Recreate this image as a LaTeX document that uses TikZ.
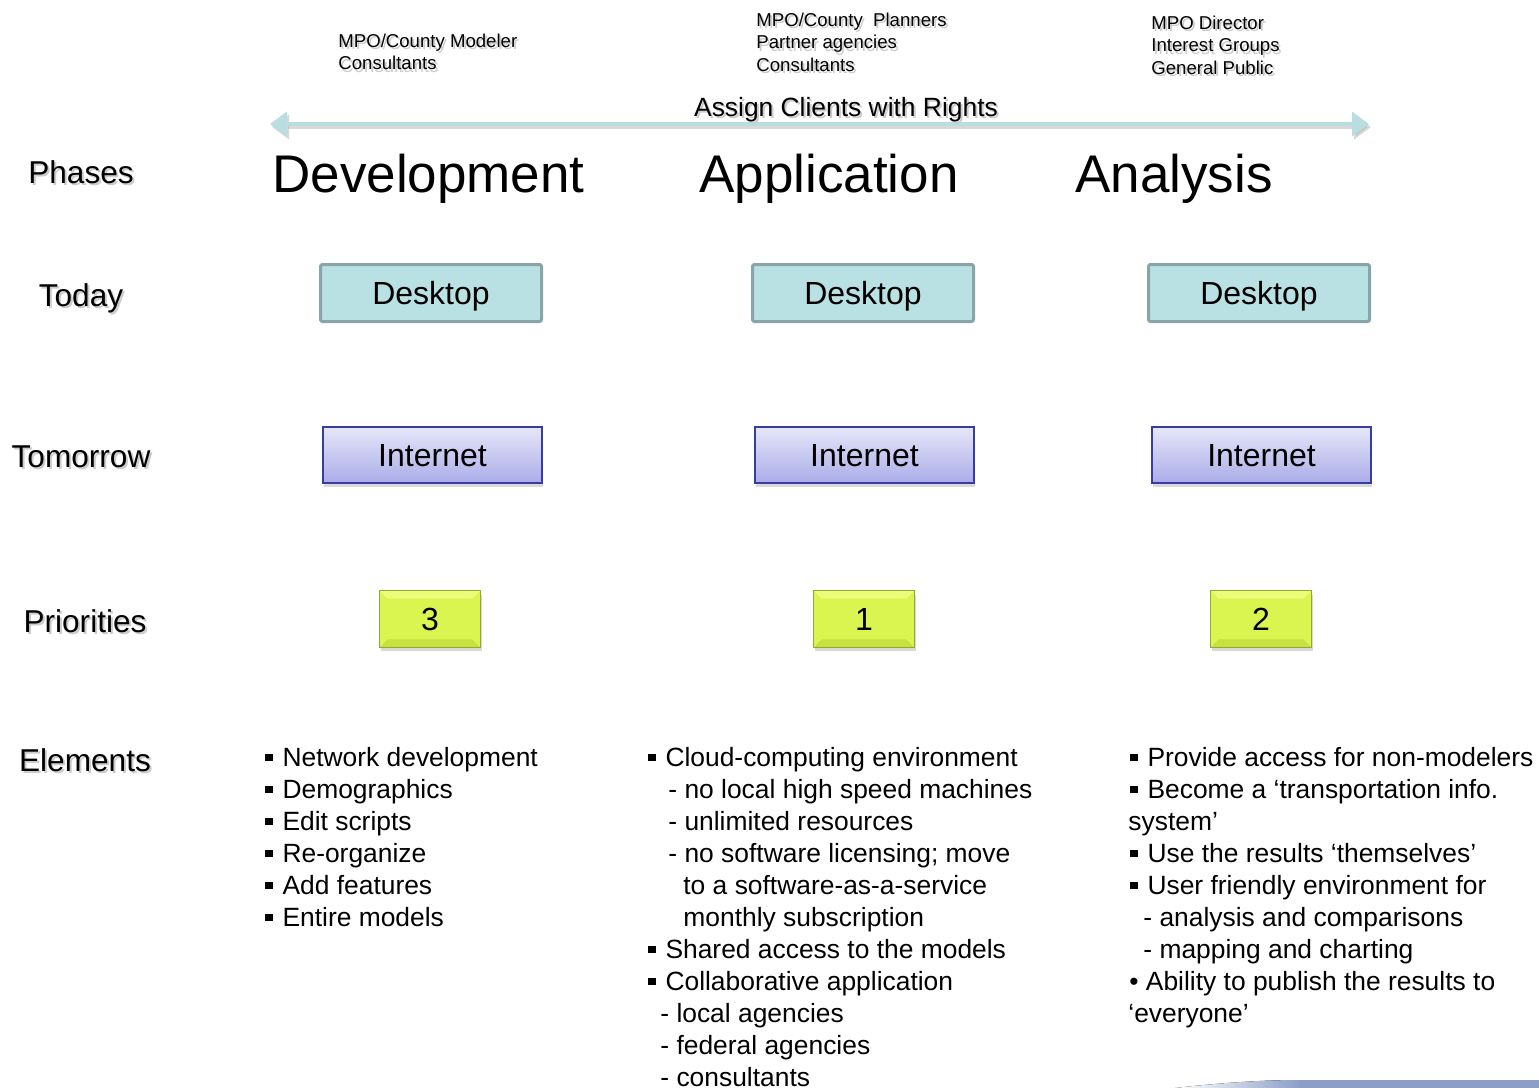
\documentclass[tikz,border=0pt]{standalone}
\usepackage{fontspec}
\setmainfont{Liberation Sans}
\usetikzlibrary{positioning, arrows.meta, shadows}

\definecolor{deskfill}{RGB}{185,224,227}
\definecolor{deskline}{RGB}{136,164,166}
\definecolor{nettop}{RGB}{230,230,249}
\definecolor{netbot}{RGB}{170,172,232}
\definecolor{netline}{RGB}{55,60,160}
\definecolor{prifill}{RGB}{218,245,80}
\definecolor{prilight}{RGB}{236,252,120}
\definecolor{pridark}{RGB}{200,225,66}
\definecolor{priline}{RGB}{150,168,50}
\definecolor{rights}{RGB}{184,222,226}
\definecolor{swoosh}{RGB}{140,158,198}

% text with a soft grey shadow
\newcommand{\shd}[1]{\makebox[0pt][l]{\raisebox{-1.3pt}{\hspace{1pt}\textcolor{black!20}{#1}}}#1}
% square bullet
\newcommand{\sqb}{\rule[0.2em]{0.27em}{0.27em}\hspace{5pt}}

\tikzset {
    rowlabel/.style={font=\fontsize{15.8}{19}\selectfont, anchor=base, inner sep=0},
    phase/.style={font=\fontsize{26.5}{30}\selectfont, anchor=base west, inner sep=0},
    who/.style={font=\fontsize{9.3}{11.25}\selectfont, align=left, anchor=north west, inner sep=0},
    item/.style={font=\fontsize{13.2}{16}\selectfont, anchor=base west, inner sep=0},
    desk/.style={draw=deskline, line width=1.5pt, fill=deskfill, rounded corners=1pt,
        minimum width=110.5pt, minimum height=28.5pt, text depth=0pt,
        font=\fontsize{16}{19}\selectfont},
    net/.style={draw=netline, line width=1pt, top color=nettop, bottom color=netbot,
        minimum width=109.5pt, minimum height=28pt, text depth=0pt,
        font=\fontsize{16}{19}\selectfont,
        drop shadow={opacity=0.3, shadow xshift=0.6pt, shadow yshift=-2pt}},
    prio/.style={draw=priline, line width=0.6pt, fill=prifill,
        minimum width=50.4pt, minimum height=28.4pt, text depth=0pt,
        font=\fontsize{16}{19}\selectfont,
        drop shadow={opacity=0.3, shadow xshift=0.6pt, shadow yshift=-2pt},
        path picture={
            \fill[prilight] (path picture bounding box.north west) -- (path picture bounding box.north east)
                -- ([xshift=-4pt,yshift=-4pt]path picture bounding box.north east)
                -- ([xshift=4pt,yshift=-4pt]path picture bounding box.north west) -- cycle;
            \fill[pridark] (path picture bounding box.south west) -- (path picture bounding box.south east)
                -- ([xshift=-4pt,yshift=4pt]path picture bounding box.south east)
                -- ([xshift=4pt,yshift=4pt]path picture bounding box.south west) -- cycle;
        }},
    rtip/.tip={Triangle[width=12pt,length=8.5pt]}
}

\begin{document}
\begin{tikzpicture}[x=0.5pt,y=-0.5pt]
    \useasboundingbox (0,0) rectangle (1539,1088);

    % who uses each phase
    \node[who] (w1) at (338,33.5) {\shd{MPO/County Modeler}\\\shd{Consultants}};
    \node[who] (w2) at (756,12.5) {\shd{MPO/County \ Planners}\\\shd{Partner agencies}\\\shd{Consultants}};
    \node[who] (w3) at (1151,15.5) {\shd{MPO Director}\\\shd{Interest Groups}\\\shd{General Public}};

    % rights arrow
    \coordinate (rl) at (270,124);
    \coordinate (rr) at (1369,124);
    \draw[black!30, opacity=0.5, line width=2pt, rtip-rtip] ([xshift=1pt,yshift=-1.5pt]rl) -- ([xshift=1pt,yshift=-1.5pt]rr);
    \draw[rights, line width=2pt, rtip-rtip] (rl) -- (rr);
    \node[font=\fontsize{13.2}{16}\selectfont, anchor=base, inner sep=0] (rights) at (846,116) {\shd{Assign Clients with Rights}};

    % row labels
    \node[rowlabel] (lphase) at (81,183) {\shd{Phases}};
    \node[rowlabel] (ltoday) at (81,306) {\shd{Today}};
    \node[rowlabel] (ltomorrow) at (81,467) {\shd{Tomorrow}};
    \node[rowlabel] (lprio) at (85,632) {\shd{Priorities}};
    \node[rowlabel] (lelem) at (85,771) {\shd{Elements}};

    % phases
    \node[phase] (dev) at (272,192) {Development};
    \node[phase] (app) at (699,192) {Application};
    \node[phase] (ana) at (1075,192) {Analysis};

    % today
    \node[desk] (desk1) at (431,293) {Desktop};
    \node[desk] (desk2) at (863,293) {Desktop};
    \node[desk] (desk3) at (1259,293) {Desktop};

    % tomorrow
    \node[net] (net1) at (432.5,455) {Internet};
    \node[net] (net2) at (864.5,455) {Internet};
    \node[net] (net3) at (1261.5,455) {Internet};

    % priorities
    \node[prio] (p1) at (430,619) {3};
    \node[prio] (p2) at (864,619) {1};
    \node[prio] (p3) at (1261,619) {2};

    % elements
    \foreach \txt [count=\i] in {Network development, Demographics, Edit scripts,
            Re-organize, Add features, Entire models}
        \node[item] (dv\i) at (265,734+32*\i) {\sqb\txt};

    \foreach \dx/\txt [count=\i] in {648/{\sqb Cloud-computing environment},
            668/- no local high speed machines, 668/- unlimited resources,
            668/- no software licensing; move, 683/to a software-as-a-service,
            683/monthly subscription, 648/{\sqb Shared access to the models},
            648/{\sqb Collaborative application}, 660/- local agencies,
            660/- federal agencies, 660/- consultants}
        \node[item] (ap\i) at (\dx,734+32*\i) {\txt};

    \foreach \dx/\txt [count=\i] in {1130/{\sqb Provide access for non-modelers},
            1130/{\sqb Become a ‘transportation info.}, 1128/system’,
            1130/{\sqb Use the results ‘themselves’},
            1130/{\sqb User friendly environment for},
            1143/- analysis and comparisons, 1143/- mapping and charting,
            1129/• Ability to publish the results to, 1128/‘everyone’}
        \node[item] (an\i) at (\dx,734+32*\i) {\txt};

    % corner swoosh
    \fill[left color=white, right color=swoosh] (1175,1088) .. controls (1220,1083) and (1260,1080) .. (1300,1080)
        -- (1300,1088) -- cycle;
    \fill[swoosh] (1299,1080) rectangle (1539,1088);
\end{tikzpicture}
\end{document}
